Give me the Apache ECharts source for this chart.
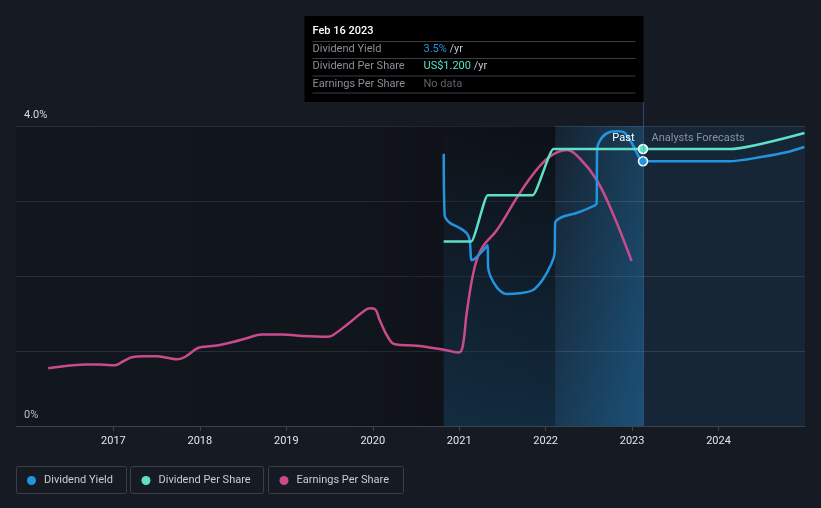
<!DOCTYPE html>
<html><head><meta charset="utf-8">
<script src="https://cdn.jsdelivr.net/npm/echarts@6/dist/echarts.min.js"></script>
<style>html,body{margin:0;padding:0;background:#151a23;}#c{width:821px;height:508px;}</style>
</head><body><div id="c"></div>
<script>
// ---- data (x in decimal years) ----
const xTickYears = [2017, 2018, 2019, 2020, 2021, 2022, 2023, 2024];
const yTickLabels = ['0%', '4.0%'];
const presentYear = 2023.126;       // Feb 16 2023
const presentLabel = 'Feb 16 2023';
const lastYearStart = 2022.11;
const payingStart = 2020.82;
const xMin = 2015.873, xMax = 2025.0;

const yieldYears  = [2020.821, 2020.832, 2020.890, 2021.006, 2021.087, 2021.121, 2021.144, 2021.179, 2021.260, 2021.329, 2021.335, 2021.434, 2021.549, 2021.699, 2021.850, 2021.965, 2022.069, 2022.104, 2022.110, 2022.197, 2022.358, 2022.509, 2022.590, 2022.595, 2022.647, 2022.740, 2022.832, 2022.913, 2023.006, 2023.087, 2023.126, 2023.5, 2024.127, 2024.509, 2024.786, 2024.994];
const yieldValues = [3.63, 2.81, 2.71, 2.64, 2.57, 2.48, 2.21, 2.23, 2.32, 2.41, 2.11, 1.85, 1.76, 1.77, 1.81, 1.95, 2.17, 2.31, 2.71, 2.79, 2.84, 2.91, 2.97, 3.68, 3.84, 3.92, 3.93, 3.91, 3.75, 3.57, 3.53, 3.53, 3.53, 3.59, 3.65, 3.72];

const dpsYears  = [2020.82, 2021.14, 2021.33, 2021.85, 2022.09, 2023.126, 2024.127, 2024.994];
const dpsValues = [0.80, 0.80, 1.00, 1.00, 1.20, 1.20, 1.20, 1.27];

const epsYears  = [2016.246, 2016.532, 2016.69, 2016.844, 2017.017, 2017.11, 2017.225, 2017.341, 2017.503, 2017.618, 2017.746, 2017.827, 2017.977, 2018.081, 2018.231, 2018.382, 2018.543, 2018.717, 2018.960, 2019.191, 2019.480, 2019.538, 2019.734, 2019.884, 2019.965, 2020.023, 2020.081, 2020.173, 2020.254, 2020.509, 2020.694, 2020.855, 2020.994, 2021.040, 2021.087, 2021.179, 2021.272, 2021.434, 2021.665, 2021.850, 2022.046, 2022.243, 2022.393, 2022.590, 2022.775, 2022.994];
const epsValues = [0.77, 0.81, 0.82, 0.82, 0.81, 0.86, 0.92, 0.93, 0.93, 0.91, 0.89, 0.92, 1.04, 1.06, 1.08, 1.12, 1.17, 1.22, 1.22, 1.20, 1.19, 1.21, 1.38, 1.52, 1.57, 1.56, 1.41, 1.19, 1.09, 1.07, 1.04, 1.01, 0.98, 1.06, 1.51, 2.12, 2.39, 2.61, 3.04, 3.35, 3.59, 3.68, 3.57, 3.28, 2.84, 2.20];

const C_YIELD = '#2394df', C_DPS = '#5de0c6', C_EPS = '#c94b8c';
const FONT = 'Roboto, "Noto Sans", sans-serif';

function pairs(xs, ys, markX) {
  return xs.map((x, i) => {
    if (markX !== undefined && x === markX) {
      return { value: [x, ys[i]], symbol: 'circle', symbolSize: 9 };
    }
    return [x, ys[i]];
  });
}

const chart = echarts.init(document.getElementById('c'), null, { renderer: 'canvas' });

const option = {
  backgroundColor: '#151a23',
  animation: false,
  textStyle: { fontFamily: FONT },
  grid: { left: 16, right: 16, top: 126, bottom: 82 },
  xAxis: {
    type: 'value', min: xMin, max: xMax,
    axisLine: { lineStyle: { color: '#3d434b' } },
    axisTick: { customValues: xTickYears, length: 5, lineStyle: { color: '#3d434b' } },
    axisLabel: { customValues: xTickYears, color: '#e3e6e9', fontSize: 11, margin: 10, fontFamily: FONT,
      formatter: v => String(Math.round(v)) },
    splitLine: { show: false }
  },
  yAxis: [
    { type: 'value', min: 0, max: 4, interval: 1, position: 'left',
      axisLine: { show: false }, axisTick: { show: false },
      splitLine: { lineStyle: { color: '#30353d', width: 1 } },
      axisLabel: { inside: true, margin: 8, color: '#d9dcdf', fontSize: 11, fontFamily: FONT,
        verticalAlign: 'bottom', padding: [0, 0, 5, 0],
        formatter: v => v === 0 ? yTickLabels[0] : (v === 4 ? yTickLabels[1] : '') } },
    { type: 'value', min: 0, max: 1.3, show: false, splitLine: { show: false } },
    { type: 'value', min: 0, max: 4, show: false, splitLine: { show: false } }
  ],
  legend: [
    { data: ['Dividend Yield'], left: 27, top: 475 },
    { data: ['Dividend Per Share'], left: 141.5, top: 475 },
    { data: ['Earnings Per Share'], left: 279.5, top: 475 }
  ].map(l => Object.assign(l, {
    icon: 'circle', itemWidth: 9, itemHeight: 9, padding: 0, itemGap: 0,
    itemStyle: { borderWidth: 0 },
    textStyle: { color: '#c9cdd2', fontSize: 11, fontFamily: FONT, padding: [0, 0, 0, 3] }
  })),
  series: [
    { name: 'Dividend Yield', type: 'line', yAxisIndex: 0, data: pairs(yieldYears, yieldValues, presentYear),
      symbol: 'none', showSymbol: true, smooth: 0.3,
      lineStyle: { color: C_YIELD, width: 2.5 }, itemStyle: { color: C_YIELD, borderColor: '#ffffff', borderWidth: 1.5 },
      z: 4,
      markArea: { silent: true, data: [
        [{ xAxis: xMin, itemStyle: { color: new echarts.graphic.LinearGradient(0, 0, 1, 0, [
            { offset: 0, color: 'rgba(0,0,0,0.14)' }, { offset: 0.6, color: 'rgba(0,0,0,0.2)' }, { offset: 1, color: 'rgba(0,0,0,0.4)' }]) } }, { xAxis: lastYearStart }],
        [{ xAxis: payingStart, itemStyle: { color: new echarts.graphic.LinearGradient(0, 0, 0, 1, [
            { offset: 0, color: 'rgba(35,148,223,0.0)' }, { offset: 1, color: 'rgba(35,148,223,0.2)' }]) } }, { xAxis: presentYear }],
        [{ xAxis: lastYearStart, itemStyle: { color: new echarts.graphic.LinearGradient(0, 0, 1, 0, [
            { offset: 0, color: 'rgba(35,148,223,0.07)' }, { offset: 1, color: 'rgba(35,148,223,0.3)' }]) } }, { xAxis: presentYear }],
        [{ xAxis: presentYear, itemStyle: { color: 'rgba(35,148,223,0.1)' } }, { xAxis: xMax }]
      ] } },
    { name: 'Dividend Per Share', type: 'line', yAxisIndex: 1, data: pairs(dpsYears, dpsValues, presentYear),
      symbol: 'none', showSymbol: true, smooth: 0.2, smoothMonotone: 'x',
      lineStyle: { color: C_DPS, width: 2.5 }, itemStyle: { color: C_DPS, borderColor: '#ffffff', borderWidth: 1.5 }, z: 5 },
    { name: 'Earnings Per Share', type: 'line', yAxisIndex: 2, data: pairs(epsYears, epsValues),
      symbol: 'none', smooth: 0.4,
      lineStyle: { color: C_EPS, width: 2.5 }, itemStyle: { color: C_EPS }, z: 3 }
  ]
};
chart.setOption(option);

// overlay: crosshair, tooltip box, Past / Forecast labels
const px = Math.round(chart.convertToPixel({ xAxisIndex: 0 }, presentYear)) + 0.5;
const gridTop = chart.convertToPixel({ yAxisIndex: 0 }, 4);
const gridBottom = chart.convertToPixel({ yAxisIndex: 0 }, 0);
const boxW = 339, boxTop = 16, boxH = 86;
const bx = px - boxW;
const yi = yieldYears.indexOf(presentYear), di = dpsYears.indexOf(presentYear);
const rows = [
  { label: 'Dividend Yield', text: '{y|' + yieldValues[yi].toFixed(1) + '%}{u| /yr}' },
  { label: 'Dividend Per Share', text: '{d|US$' + dpsValues[di].toFixed(3) + '}{u| /yr}' },
  { label: 'Earnings Per Share', text: '{n|No data}' }
];
const rowY = [49.5, 66.5, 84];
const sepY = [41.5, 58.5, 76, 93];
const g = [
  { type: 'line', silent: true, z: 50, shape: { x1: px, y1: boxTop + boxH, x2: px, y2: gridBottom },
    style: { stroke: 'rgba(70,130,190,0.45)', lineWidth: 1 } },
  { type: 'rect', silent: true, z: 60, shape: { x: bx, y: boxTop, width: boxW, height: boxH }, style: { fill: '#000000' } },
  { type: 'text', silent: true, z: 61, x: bx + 8, y: 31, style: { text: presentLabel, fill: '#ffffff', font: '500 11px ' + FONT, verticalAlign: 'middle' } },
  { type: 'text', silent: true, z: 61, x: px - 9, y: gridTop + 12, style: { text: 'Past', fill: '#ffffff', font: '11px ' + FONT, align: 'right', verticalAlign: 'middle' } },
  { type: 'text', silent: true, z: 61, x: px + 8, y: gridTop + 12, style: { text: 'Analysts Forecasts', fill: '#8d9299', font: '11px ' + FONT, align: 'left', verticalAlign: 'middle' } }
];
sepY.forEach(y => g.push({ type: 'line', silent: true, z: 61, shape: { x1: bx + 8, y1: y, x2: px - 8, y2: y }, style: { stroke: '#3a3d42', lineWidth: 1 } }));
rows.forEach((r, i) => {
  g.push({ type: 'text', silent: true, z: 61, x: bx + 8, y: rowY[i], style: { text: r.label, fill: '#8a8e95', font: '11px ' + FONT, verticalAlign: 'middle' } });
  g.push({ type: 'text', silent: true, z: 61, x: bx + 119, y: rowY[i], style: { text: r.text, verticalAlign: 'middle', font: '11px ' + FONT,
    rich: { y: { fill: C_YIELD, fontSize: 11, fontFamily: FONT }, d: { fill: C_DPS, fontSize: 11, fontFamily: FONT },
            u: { fill: '#c4c8cc', fontSize: 11, fontFamily: FONT }, n: { fill: '#5f6368', fontSize: 11, fontFamily: FONT } } } });
});
// legend boxes
[[16, 110], [130, 133], [268, 135]].forEach(b => g.push({ type: 'rect', silent: true, z: 0,
  shape: { x: b[0] + 0.5, y: 466.5, width: b[1], height: 27, r: 2 }, style: { fill: 'none', stroke: '#3a3f47', lineWidth: 1 } }));
chart.setOption({ graphic: g });
</script></body></html>
